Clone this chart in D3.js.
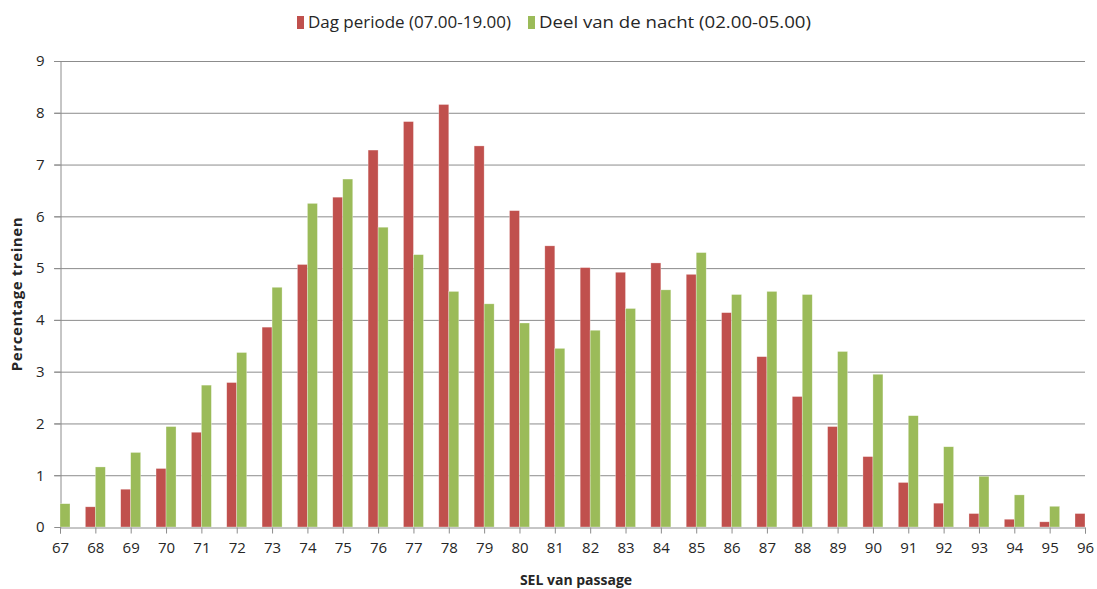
<!DOCTYPE html>
<html>
<head>
<meta charset="utf-8">
<script src="https://cdn.jsdelivr.net/npm/d3@7"></script>
<style>
  html, body { margin: 0; padding: 0; background: #fff; }
  svg { display: block; }
  text { font-family: "Open Sans", "Liberation Sans", sans-serif; fill: #262626; }
</style>
</head>
<body>
<svg id="chart" width="1097" height="589"></svg>
<script>
const categories = [67,68,69,70,71,72,73,74,75,76,77,78,79,80,81,82,83,84,85,86,87,88,89,90,91,92,93,94,95,96];
const dagValues = [0,0.39,0.73,1.13,1.83,2.79,3.86,5.07,6.37,7.28,7.83,8.16,7.36,6.11,5.43,5.01,4.92,5.10,4.88,4.14,3.29,2.52,1.94,1.36,0.86,0.46,0.26,0.15,0.10,0.26];
const nachtValues = [0.45,1.16,1.44,1.94,2.74,3.37,4.63,6.25,6.72,5.79,5.26,4.55,4.31,3.94,3.45,3.80,4.22,4.58,5.30,4.49,4.55,4.49,3.39,2.95,2.15,1.55,0.98,0.62,0.40,0];
const yTicks = [0,1,2,3,4,5,6,7,8,9];
const seriesNames = ["Dag periode (07.00-19.00)", "Deel van de nacht (02.00-05.00)"];
const seriesColors = ["#C0504D", "#9BBB59"];

const svg = d3.select("#chart");
const m = {left: 60, right: 1085, top: 61, bottom: 527};

const x = d3.scaleLinear().domain([categories[0], categories[categories.length-1]]).range([m.left, m.right]);
const y = d3.scaleLinear().domain([0, 9]).range([m.bottom, m.top]);
const bw = 10;

// clip
svg.append("defs").append("clipPath").attr("id","plotclip")
  .append("rect").attr("x", m.left).attr("y", m.top - 5).attr("width", m.right - m.left).attr("height", m.bottom - m.top + 5);

// gridlines
svg.append("g").selectAll("line").data(yTicks.filter(d => d > 0)).join("line")
  .attr("x1", m.left - 6).attr("x2", m.right)
  .attr("y1", d => y(d) + 0.5).attr("y2", d => y(d) + 0.5)
  .attr("stroke", "#8c8c8c").attr("stroke-width", 1);

// y axis
const yAxis = svg.append("g").attr("transform", `translate(${m.left + 0.5},0)`)
  .call(d3.axisLeft(y).tickValues(yTicks).tickSize(6).tickPadding(10).tickFormat(d3.format("d")));
yAxis.select(".domain").attr("stroke", "#8c8c8c");
yAxis.selectAll(".tick line").attr("stroke", "#8c8c8c");
yAxis.selectAll(".tick text").attr("font-size", 15).attr("fill", "#262626")
  .style("font-family", "'Open Sans', sans-serif");

// bars
const gBars = svg.append("g").attr("clip-path", "url(#plotclip)");
const series = [dagValues, nachtValues];
series.forEach((vals, si) => {
  gBars.append("g").selectAll("rect").data(categories).join("rect")
    .attr("x", (c) => x(c) + (si === 0 ? -bw : 0))
    .attr("y", (c, i) => y(vals[i]))
    .attr("width", bw)
    .attr("height", (c, i) => y(0) - y(vals[i]))
    .attr("fill", seriesColors[si])
    .attr("stroke", "rgba(255,255,255,0.5)")
    .attr("stroke-width", 0.6);
});

// x axis
const xAxis = svg.append("g").attr("transform", `translate(0,${m.bottom + 0.5})`)
  .call(d3.axisBottom(x).tickValues(categories).tickSize(6).tickPadding(9).tickFormat(d3.format("d")));
xAxis.select(".domain").attr("stroke", "#8c8c8c");
xAxis.selectAll(".tick line").attr("stroke", "#8c8c8c");
xAxis.selectAll(".tick text").attr("font-size", 15).attr("fill", "#262626")
  .style("font-family", "'Open Sans', sans-serif");

// axis titles
svg.append("text").attr("x", 576).attr("y", 585)
  .attr("text-anchor", "middle").attr("font-size", 14).attr("font-weight", "bold")
  .text("SEL van passage");
svg.append("text").attr("transform", `translate(22,${(m.top + m.bottom) / 2}) rotate(-90)`)
  .attr("text-anchor", "middle").attr("font-size", 15).attr("font-weight", "bold")
  .attr("letter-spacing", 0.6)
  .text("Percentage treinen");

// legend
const legX = [297, 528];
const legW = [203, 272];
seriesNames.forEach((name, i) => {
  const g = svg.append("g").attr("transform", `translate(${legX[i]},0)`);
  g.append("rect").attr("x", 0).attr("y", 16).attr("width", 7).attr("height", 13).attr("fill", seriesColors[i]);
  g.append("text").attr("x", 11).attr("y", 28).attr("font-size", 16)
    .attr("textLength", legW[i]).attr("lengthAdjust", "spacingAndGlyphs").text(name);
});
</script>
</body>
</html>
